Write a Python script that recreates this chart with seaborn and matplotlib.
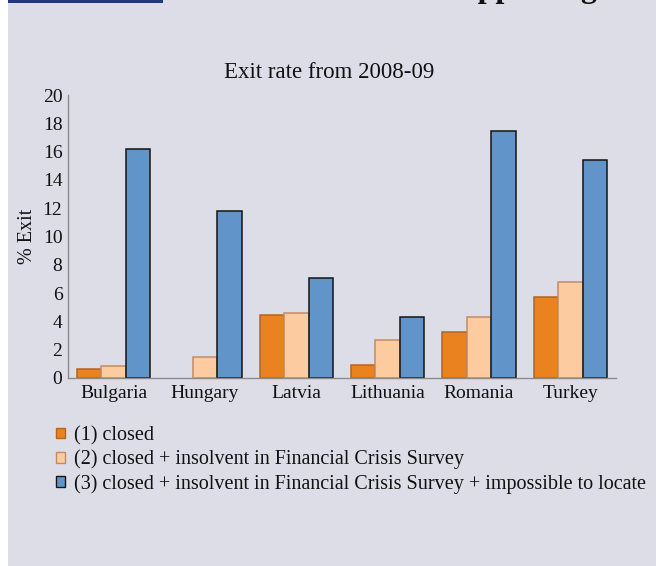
import matplotlib
matplotlib.use("Agg")
import matplotlib.pyplot as plt
from matplotlib.patches import Rectangle, Patch
import seaborn as sns
import pandas as pd
import numpy as np

countries = ["Bulgaria", "Hungary", "Latvia", "Lithuania", "Romania", "Turkey"]
series_names = [
    "(1) closed",
    "(2) closed + insolvent in Financial Crisis Survey",
    "(3) closed + insolvent in Financial Crisis Survey + impossible to locate",
]
closed = [0.65, np.nan, 4.45, 0.95, 3.25, 5.7]
closed_insolvent = [0.85, 1.45, 4.6, 2.7, 4.3, 6.75]
closed_insolvent_unlocated = [16.2, 11.8, 7.05, 4.3, 17.45, 15.4]
yticks = [0, 2, 4, 6, 8, 10, 12, 14, 16, 18, 20]

face_colors = ["#E9821F", "#FDCBA0", "#6195C9"]
edge_colors = ["#B3651F", "#C48B62", "#151515"]
bg = "#DDDDE7"

rows = []
for name, vals in zip(series_names, [closed, closed_insolvent, closed_insolvent_unlocated]):
    for c, v in zip(countries, vals):
        rows.append({"country": c, "series": name, "value": v})
df = pd.DataFrame(rows)

sns.set_theme(style="white")
plt.rcParams["font.family"] = ["Liberation Serif", "DejaVu Serif"]

W, H = 656, 566
fig = plt.figure(figsize=(W / 100, H / 100), dpi=100)
fig.patch.set_facecolor(bg)

# decorative strips
fig.patches.append(Rectangle((0, 0), 8 / W, 1, transform=fig.transFigure,
                             facecolor="white", edgecolor="none", zorder=-5))
fig.patches.append(Rectangle((8 / W, 1 - 3 / H), (163 - 8) / W, 3 / H,
                             transform=fig.transFigure, facecolor="#1F3A78",
                             edgecolor="none", zorder=-4))
fig.text(442 / W, 1 + 3.5 / H, "Supporting", fontsize=23, fontweight="bold",
         ha="left", va="baseline", color="#111111")

left, right, top, bottom = 68, 616, 95, 378
ax = fig.add_axes([left / W, (H - bottom) / H, (right - left) / W, (bottom - top) / H])
ax.set_facecolor(bg)

sns.barplot(data=df, x="country", y="value", hue="series", order=countries,
            hue_order=series_names, palette=face_colors, saturation=1,
            width=0.8, ax=ax, legend=False)

for cont, ec in zip(ax.containers, edge_colors):
    for bar in cont:
        bar.set_edgecolor(ec)
        bar.set_linewidth(1.1)

ax.set_xlim(-0.5, 5.5)
ax.set_ylim(0, 20)
ax.set_yticks(yticks)
ax.set_yticklabels([str(t) for t in yticks])
ax.tick_params(axis="both", length=0, labelsize=14, colors="#111111")
ax.tick_params(axis="y", pad=4)
ax.tick_params(axis="x", pad=5)
ax.set_xlabel("")
ax.set_ylabel("% Exit", fontsize=14.5, color="#111111")
ax.yaxis.set_label_coords((37 - left) / (right - left), 0.5)
for s in ["top", "right"]:
    ax.spines[s].set_visible(False)
for s in ["left", "bottom"]:
    ax.spines[s].set_color("#8C8C8C")
    ax.spines[s].set_linewidth(1.0)

fig.text(329 / W, 1 - 73 / H, "Exit rate from 2008-09", fontsize=16.5,
         ha="center", va="center", color="#111111")

handles = [Patch(facecolor=fc, edgecolor=ec, linewidth=1.0)
           for fc, ec in zip(face_colors, edge_colors)]
fig.legend(handles, series_names, loc="upper left",
           bbox_to_anchor=(56 / W, 1 - 426 / H), frameon=False,
           fontsize=14.5, handlelength=0.45, handleheight=0.45,
           handletextpad=0.45, labelspacing=0.22, borderpad=0,
           borderaxespad=0, labelcolor="#111111")

fig.savefig("out.png", dpi=100, facecolor=bg)
